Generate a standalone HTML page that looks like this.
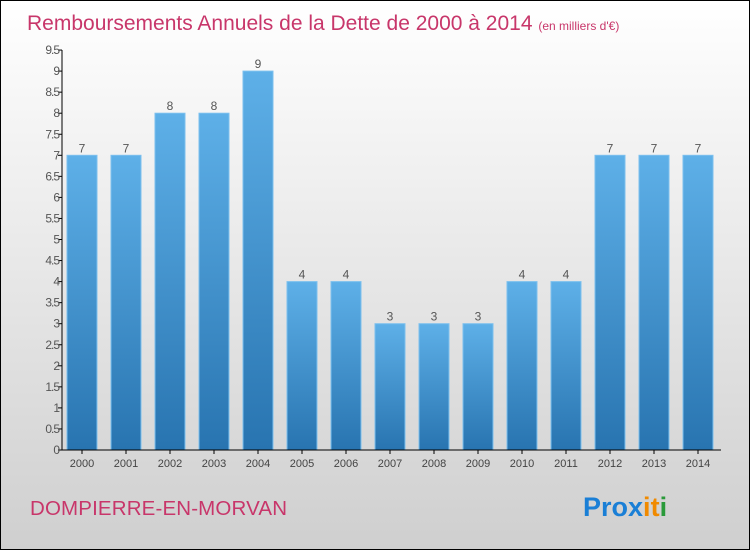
<!DOCTYPE html>
<html><head><meta charset="utf-8"><style>
body{margin:0;width:750px;height:550px;overflow:hidden;font-family:"Liberation Sans",sans-serif}
#wrap{position:relative;width:748px;height:548px;border:1px solid #000;background:linear-gradient(#ffffff,#cfcfcf)}
</style></head><body>
<div id="wrap">
<svg id="chart" width="748" height="548">
<defs><linearGradient id="bg" x1="0" y1="0" x2="0" y2="1"><stop offset="0" stop-color="#5eb0e8"/><stop offset="1" stop-color="#2874b0"/></linearGradient></defs>
<text x="26" y="29" font-size="21" fill="#c8366a">Remboursements Annuels de la Dette de 2000 à 2014 <tspan font-size="12">(en milliers d'€)</tspan></text>
<text x="29" y="514" font-size="20.5" fill="#c8366a" textLength="257">DOMPIERRE-EN-MORVAN</text>
<text x="582" y="515" font-size="27" font-weight="bold"><tspan fill="#1a7fd6">Pro</tspan><tspan fill="#1a7fd6">x</tspan><tspan fill="#f08a00">i</tspan><tspan fill="#f08a00">t</tspan><tspan fill="#2a9a3a">i</tspan></text>
<g id="plot"></g>
</svg>
</div>
<script>
const years=["2000","2001","2002","2003","2004","2005","2006","2007","2008","2009","2010","2011","2012","2013","2014"];
const values=[7,7,8,8,9,4,4,3,3,3,4,4,7,7,7];
const ticks=[0,0.5,1,1.5,2,2.5,3,3.5,4,4.5,5,5.5,6,6.5,7,7.5,8,8.5,9,9.5];
const NS="http://www.w3.org/2000/svg";
const g=document.getElementById('plot');
const y=v=>449-v*42.1, x=i=>81+i*44;
function mk(t,a){const e=document.createElementNS(NS,t);for(const k in a)e.setAttribute(k,a[k]);g.appendChild(e);return e;}
values.forEach((v,i)=>{
 const r=mk('rect',{x:x(i)-15,y:y(v),width:30,height:449-y(v),fill:'url(#bg)',stroke:'#7cc0ee','stroke-width':1});
 
 
 const t=mk('text',{x:x(i),y:y(v)-3,'text-anchor':'middle','font-size':12,fill:'#555'});t.textContent=v;
 
 
 const l=mk('text',{x:x(i),y:466,'text-anchor':'middle','font-size':11,fill:'#444'});l.textContent=years[i];
 
 
 mk('line',{x1:x(i),x2:x(i),y1:449,y2:453,stroke:'#000'});
});
ticks.forEach(v=>{
 mk('line',{x1:57,x2:61,y1:y(v),y2:y(v),stroke:'#000'});
 const t=mk('text',{x:58,y:y(v)+4,'text-anchor':'end','font-size':12,fill:'#555','letter-spacing':'-1'});t.textContent=v;
 
 
});
const ya=mk('line',{x1:61,x2:61,y1:y(9.5),y2:449,stroke:'#000'});


const xa=mk('line',{x1:61,x2:720,y1:449,y2:449,stroke:'#000'});


</script>
</body></html>
